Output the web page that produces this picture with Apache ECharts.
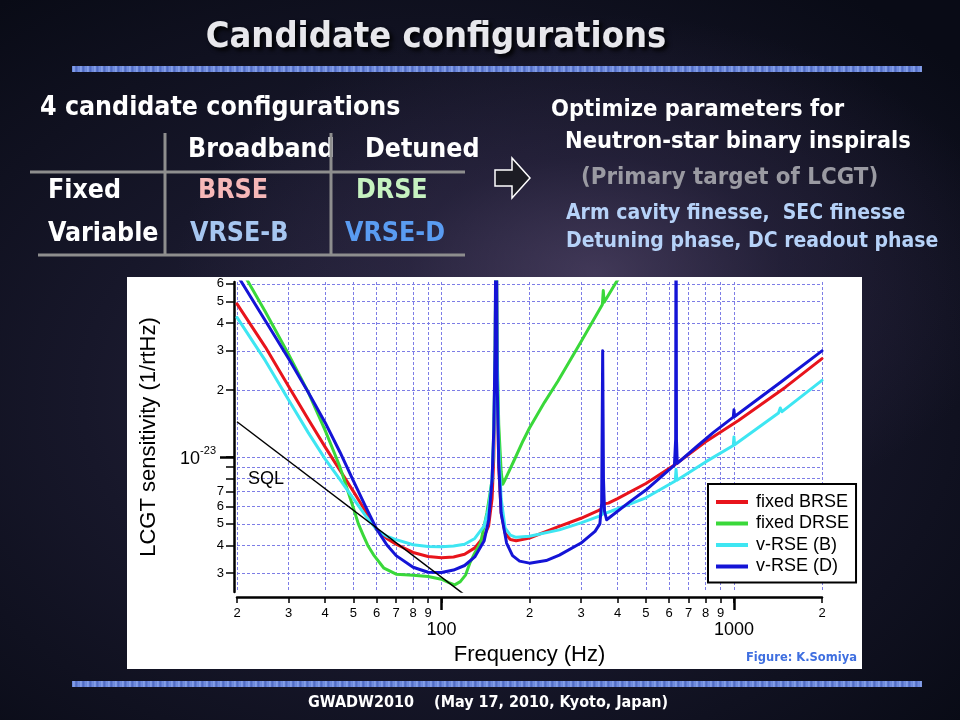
<!DOCTYPE html>
<html>
<head>
<meta charset="utf-8">
<script src="https://cdn.jsdelivr.net/npm/echarts@6/dist/echarts.min.js"></script>
<style>
html,body{margin:0;padding:0;width:960px;height:720px;overflow:hidden;}
body{background:
  radial-gradient(ellipse 420px 260px at 62% 38%, rgba(95,80,120,0.55) 0%, rgba(60,50,85,0.35) 45%, rgba(0,0,0,0) 100%),
  radial-gradient(ellipse 700px 500px at 45% 55%, #2a2740 0%, #17172a 50%, #090b16 100%);
  position:relative;}
.bar{position:absolute;left:72px;width:850px;height:6px;
  background:repeating-linear-gradient(90deg,#5f7fd6 0px,#8fa8ee 2px,#4a66c0 4px,#7a94e2 7px);}
#box{position:absolute;left:127px;top:277px;width:735px;height:392px;background:#fff;}
#c{position:absolute;left:0;top:0;width:960px;height:720px;}
</style>
</head>
<body>
<div class="bar" style="top:66px"></div>
<div class="bar" style="top:681px"></div>
<div id="box"></div>
<div id="c"></div>
<script>
// ---------- axis ticks ----------
const freqTicks = [20,30,40,50,60,70,80,90,100,200,300,400,500,600,700,800,900,1000,2000];
const freqLabelTicks = [20,30,40,50,60,70,80,90,200,300,400,500,600,700,800,900,2000];
const freqMajor = [100,1000];
const sensTicks = [3,4,5,6,7,8,9,10,20,30,40,50,60];
const sensLabelTicks = [3,4,5,6,7,20,30,40,50,60];
const sensMajor = [10];

// ---------- curves: [frequency Hz, sensitivity in 1e-24 /rtHz] ----------
const fixedBRSE = [
 [20,48.8],[25,31.2],[30,20.8],[35,14.8],[40,11.1],[45,8.7],[50,7.0],[55,5.7],[60,4.71],
 [65,4.3],[70,4.05],[80,3.72],[90,3.57],[100,3.52],[110,3.55],[120,3.65],[130,3.9],
 [140,4.4],[145,4.9],[149,6.5],[151,10],[152.6,25],[153.8,150],[155,25],[157,9],[160,5.6],
 [165,4.55],[172,4.25],[180,4.2],[200,4.32],[250,4.85],[300,5.3],[345,5.75],[353,5.85],
 [356,6.3],[360,6.15],[372,6.2],[400,6.5],[500,7.6],[626,9.2],[800,11.7],[1036,14.6],
 [1500,20.6],[2000,27.7]
];
const fixedDRSE = [
 [20,75],[25,45],[30,29],[35,19.6],[40,13.2],[43.6,10],[45,9.0],[50,5.9],[52,5.0],
 [54,4.45],[56,4.0],[58.6,3.63],[63.6,3.16],[70,2.97],[80,2.94],[90,2.9],[100,2.82],
 [106,2.72],[111,2.66],[116,2.75],[121,2.95],[125,3.33],[130,3.7],[136,4.1],[143,5.6],
 [149,7.9],[151,13],[152.6,30],[153.8,150],[155,30],[157,14],[160,8.6],[162,7.53],
 [165,7.9],[170,8.6],[180,10.1],[190,11.8],[200,13.5],[225,17.6],[250,21.9],[300,33],
 [355,48.5],[357.5,56],[360,49.6],[397,61.5],[420,68]
];
const vrseB = [
 [20,42.4],[25,27.1],[30,18.1],[35,12.9],[40,9.8],[45,7.9],[50,6.5],[55,5.45],[60,4.71],
 [65,4.4],[70,4.25],[80,4.03],[90,3.96],[100,3.95],[110,3.98],[120,4.05],[130,4.3],
 [140,4.9],[145,5.9],[149,8],[151,12],[152.6,28],[153.8,150],[155,28],[157,11],[160,6.5],
 [165,4.8],[172,4.45],[180,4.35],[200,4.4],[253,4.7],[300,5.05],[345,5.4],[354,5.5],
 [356,6.0],[358,5.55],[380,5.7],[500,6.55],[630,7.8],[634,8.8],[638,7.85],[800,9.5],
 [995,11.25],[1000,12.3],[1005,11.35],[1420,15.75],[1440,16.6],[1460,16.0],[2000,22.1]
];
const vrseD = [
 [20,66],[25,41],[30,27.7],[35,19.6],[40,14.3],[45,10.5],[50,7.8],[55,6.0],[60,4.75],
 [65,4.03],[70,3.6],[80,3.19],[90,3.03],[100,3.02],[110,3.1],[120,3.25],[130,3.55],
 [140,4.2],[145,5.2],[149,7.9],[151,13.4],[152.6,31.8],[153.8,200],[155,22.5],[157,9.4],
 [160,5.6],[167,4.1],[175,3.6],[185,3.4],[200,3.33],[228,3.42],[253,3.62],[300,4.1],
 [335,4.63],[348,5.0],[353,6.2],[355.8,30],[358,8],[361,5.7],[367,5.22],[440,6.28],
 [500,7.1],[626,9.2],[632,12],[634,200],[636,12],[640,9.35],[750,11.2],[851,12.9],
 [995,15.1],[1000,16.3],[1005,15.2],[1440,21.6],[2000,30]
];
const sqlLine = [[20,14.4],[120,2.4]];

const seriesNames = ['fixed BRSE','fixed DRSE','v-RSE (B)','v-RSE (D)'];
const seriesColors = ['#e8141c','#3ad83a','#3ee6f2','#1414d6'];
const seriesData = [fixedBRSE, fixedDRSE, vrseB, vrseD];

// ---------- helpers ----------
const AF = 'Liberation Sans, Arial, sans-serif';
const SF = '"DejaVu Sans Condensed", "DejaVu Sans", sans-serif';
function firstDigit(v){ return String(Math.round(v / Math.pow(10, Math.floor(Math.log10(v) + 1e-9)))); }
function T(text, x, y, size, color, extra){
  return {
    type:'text', x:x, y:y, silent:true, z:50,
    style:Object.assign({text:text, fill:color, font:'bold '+size+'px '+SF,
      textAlign:'left', textVerticalAlign:'middle'}, extra||{})
  };
}
function L(x1,y1,x2,y2){
  return {type:'line', silent:true, z:50, shape:{x1:x1,y1:y1,x2:x2,y2:y2},
    style:{stroke:'#8e8e8e', lineWidth:3}};
}

const gridDash = {color:'#7d7de6', type:[3,2], width:1};

const series = seriesData.map((d,i)=>({
  type:'line', name:seriesNames[i], data:d, xAxisIndex:0, yAxisIndex:0,
  showSymbol:false, symbol:'none', smooth:false, clip:true, silent:true,
  lineStyle:{color:seriesColors[i], width:3, join:'round', cap:'round'}, itemStyle:{color:seriesColors[i]}, z:3+i
}));
series.push({
  type:'line', name:'SQL', data:sqlLine, xAxisIndex:0, yAxisIndex:0,
  showSymbol:false, symbol:'none', clip:true, silent:true,
  lineStyle:{color:'#000', width:1.5}, itemStyle:{color:'#000'}, z:8
});

const chart = echarts.init(document.getElementById('c'), null, {renderer:'canvas'});
const option = {
  backgroundColor:'transparent',
  animation:false,
  grid:{left:237, right:138, top:282, bottom:128},
  legend:{
    data:seriesNames, orient:'vertical', left:708, top:484,
    padding:[9,7,7,8], itemGap:3.5, itemWidth:32, itemHeight:4, icon:'rect',
    backgroundColor:'#fff', borderColor:'#000', borderWidth:2, borderRadius:0,
    textStyle:{fontSize:18, color:'#000', fontFamily:AF, padding:[0,0,0,3]},
    selectedMode:false
  },
  xAxis:[{
    type:'log', logBase:10, min:20, max:2000, offset:5, position:'bottom',
    axisLine:{show:true, onZero:false, lineStyle:{color:'#000', width:2.5}},
    axisTick:{show:true, customValues:freqTicks, length:6, lineStyle:{color:'#000', width:1.5}},
    axisLabel:{customValues:freqLabelTicks, formatter:firstDigit, margin:10, fontSize:13, color:'#000', fontFamily:AF},
    splitLine:{show:true, lineStyle:gridDash},
    name:'Frequency (Hz)', nameLocation:'middle', nameGap:47,
    nameTextStyle:{fontSize:22, color:'#000', fontFamily:AF}
  },{
    type:'log', logBase:10, min:20, max:2000, offset:5, position:'bottom',
    axisLine:{show:false},
    axisTick:{show:true, customValues:freqMajor, length:13, lineStyle:{color:'#000', width:2.5}},
    axisLabel:{customValues:freqMajor, formatter:v=>String(Math.round(v)), margin:24, fontSize:18, color:'#000', fontFamily:AF},
    splitLine:{show:false}
  }],
  yAxis:[{
    type:'log', logBase:10, min:2.47, max:61.2, offset:3, position:'left',
    axisLine:{show:true, onZero:false, lineStyle:{color:'#000', width:2.5}},
    axisTick:{show:true, customValues:sensTicks, length:8, lineStyle:{color:'#000', width:1.5}},
    axisLabel:{customValues:sensLabelTicks, formatter:firstDigit, margin:10, fontSize:13, color:'#000', fontFamily:AF},
    splitLine:{show:true, lineStyle:gridDash},
    name:'LCGT sensitivity (1/rtHz)', nameLocation:'middle', nameGap:74, nameRotate:90,
    nameTextStyle:{fontSize:22, color:'#000', fontFamily:AF}
  },{
    type:'log', logBase:10, min:2.47, max:61.2, offset:3, position:'left',
    axisLine:{show:false},
    axisTick:{show:true, customValues:sensMajor, length:14, lineStyle:{color:'#000', width:2.5}},
    axisLabel:{customValues:sensMajor, formatter:()=> '{b|10}{s|-23}', margin:18, color:'#000',
      rich:{b:{fontSize:18, fontFamily:AF, color:'#000', lineHeight:22, verticalAlign:'bottom'},
            s:{fontSize:11, fontFamily:AF, color:'#000', lineHeight:11, verticalAlign:'top'}}},
    splitLine:{show:false}
  }],
  series:series,
  graphic:[
    T('Candidate configurations', 436, 38, 36, '#e8e8ec',
      {textAlign:'center', textShadowColor:'rgba(0,0,0,0.95)', textShadowBlur:4, textShadowOffsetX:3, textShadowOffsetY:3}),
    T('4 candidate configurations', 40, 108, 26.5, '#ffffff'),
    T('Broadband', 188, 150, 26.5, '#ffffff'),
    T('Detuned', 365, 150, 26.5, '#ffffff'),
    T('Fixed', 48, 191, 26.5, '#ffffff'),
    T('BRSE', 198, 191, 26.5, '#f6b8b8'),
    T('DRSE', 356, 191, 26.5, '#c6f2c0'),
    T('Variable', 48, 234, 26.5, '#ffffff'),
    T('VRSE-B', 190, 234, 26.5, '#a6c6f0'),
    T('VRSE-D', 345, 234, 26.5, '#5a9cf2'),
    L(165,133,165,256), L(331,133,331,256), L(30,172,465,172), L(38,255,465,255),
    {type:'polygon', silent:true, z:50,
      shape:{points:[[495,170],[512,170],[512,158],[530,178],[512,198],[512,186],[495,186]]},
      style:{fill:'#1c1c24', stroke:'#ffffff', lineWidth:1.5}},
    T('Optimize parameters for', 551, 110, 23.5, '#ffffff'),
    T('Neutron-star binary inspirals', 565, 142, 23.5, '#ffffff'),
    T('(Primary target of LCGT)', 581, 178, 23.8, '#9a9aa2'),
    T('Arm cavity finesse,  SEC finesse', 566, 214, 21, '#b6d2f8'),
    T('Detuning phase, DC readout phase', 566, 242, 21, '#b6d2f8'),
    T('GWADW2010    (May 17, 2010, Kyoto, Japan)', 308, 703, 16, '#ffffff'),
    T('Figure: K.Somiya', 746, 658, 11.5, '#3f6fe0', {font:'bold 11.5px "DejaVu Sans", sans-serif'}),
    T('SQL', 248, 479, 18, '#000000', {font:'18px '+AF})
  ]
};
chart.setOption(option);
</script>
</body>
</html>
